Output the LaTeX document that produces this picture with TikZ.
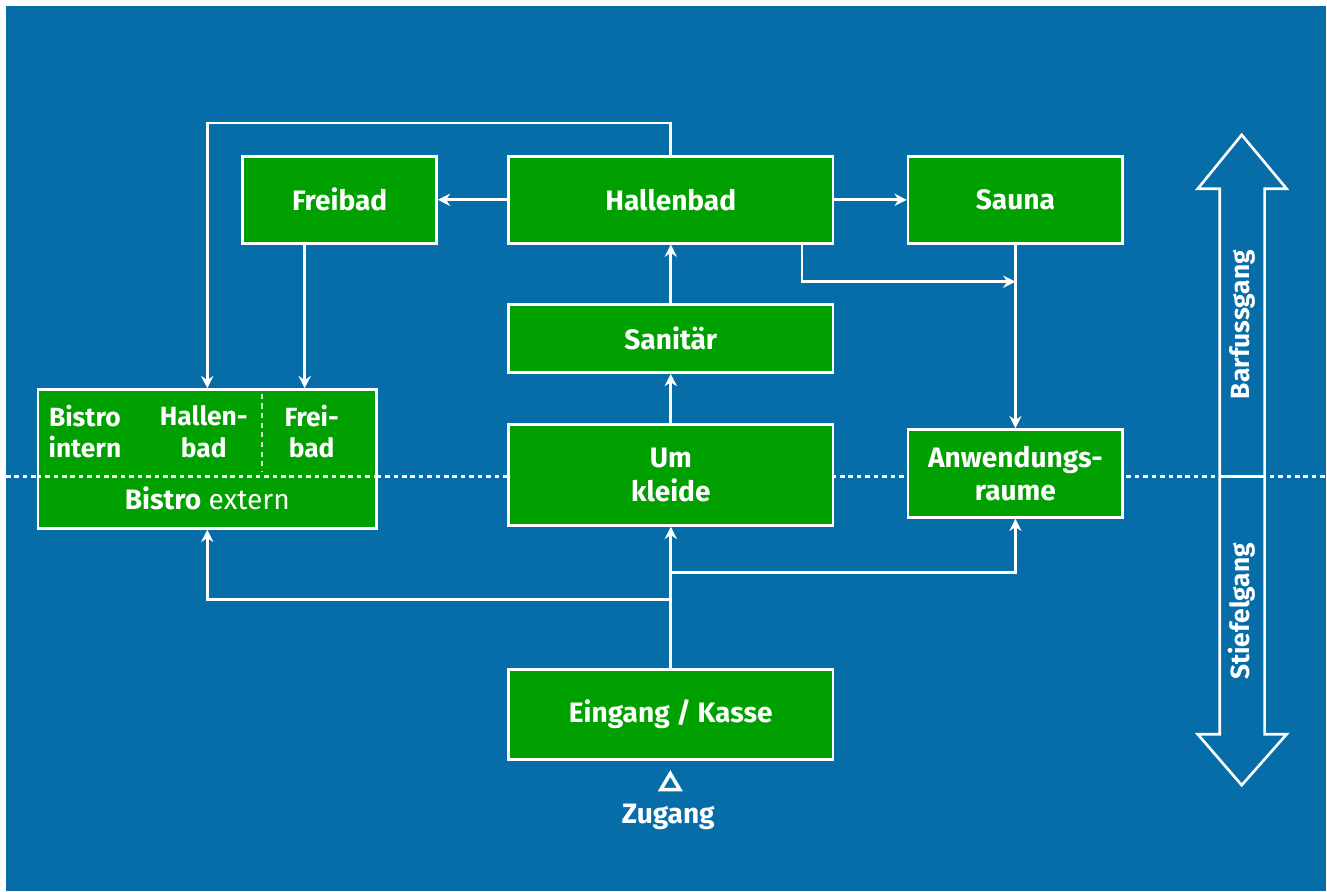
\documentclass[tikz,border=0pt]{standalone}
\usepackage{fontspec}
\setmainfont{Fira Sans}
\usetikzlibrary{arrows.meta,shapes.geometric}

\definecolor{bgblue}{HTML}{066DA8}
\definecolor{roomgreen}{HTML}{00A000}

\tikzset{
  room/.style={draw=white, line width=1.5pt, fill=roomgreen, text=white,
    font=\fontsize{16}{19}\selectfont\bfseries, align=center, inner sep=0pt},
  roomtext/.style={text=white, font=\fontsize{15}{18}\selectfont\bfseries,
    align=center, inner sep=0pt},
  flow/.style={draw=white, line width=1.5pt, -{Stealth[length=7pt,width=7pt]}},
  floorline/.style={white, line width=1.6pt, dash pattern=on 2.6pt off 2.2pt},
}

\begin{document}
\begin{tikzpicture}[x=0.02cm, y=-0.02cm]

    % Hintergrund
    \fill[white] (0,0) rectangle (1327,892);
    \fill[bgblue] (6,6) rectangle (1327,892);

    % Trennlinie Barfuss / Stiefel
    \draw[floorline] (6,477) -- (1327,477);

    % Raeume
    \node[room, minimum width=3.88cm, minimum height=1.74cm] (freibad) at (340,200) {Freibad};
    \node[room, minimum width=6.5cm, minimum height=1.74cm] (hallenbad) at (671.5,200) {Hallenbad};
    \node[room, minimum width=4.3cm, minimum height=1.74cm] (sauna) at (1016.5,200) {Sauna};
    \node[room, minimum width=6.5cm, minimum height=1.36cm] (sanitaer) at (671.5,339) {Sanit\"ar};
    \node[room, minimum width=6.5cm, minimum height=2.02cm] (umkleide) at (671.5,475.5) {Um\\kleide};
    \node[room, minimum width=4.3cm, minimum height=1.76cm] (anwendung) at (1016.5,474) {Anwendungs-\\raume};
    \node[room, minimum width=6.5cm, minimum height=1.8cm] (eingang) at (671.5,715) {Eingang / Kasse};

    % Bistro mit Unterteilung
    \node[room, minimum width=6.78cm, minimum height=2.78cm] (bistro) at (207.5,459.5) {};
    \draw[floorline] (bistro.west |- 0,477) -- (bistro.east |- 0,477);
    \draw[white!80!roomgreen, line width=1pt, dash pattern=on 3pt off 2.5pt] (262,394) -- (262,472);
    \node[roomtext] (bintern) at (85,432) {Bistro\\intern};
    \node[roomtext] (bhallen) at (204,432) {Hallen-\\bad};
    \node[roomtext] (bfrei) at (312,432) {Frei-\\bad};
    \node[roomtext, font=\fontsize{16}{19}\selectfont] (bextern) at (207.5,499) {\textbf{Bistro} extern};

    % Zugang
    \node[draw=white, line width=2pt, isosceles triangle, shape border rotate=90,
      isosceles triangle stretches, minimum height=0.32cm, minimum width=0.38cm,
      inner sep=0pt] (zugangmark) at (671,785) {};
    \node[roomtext, font=\fontsize{16}{19}\selectfont\bfseries] (zugang) at (669,818) {Zugang};

    % Wege
    \draw[flow] (hallenbad) -- (freibad);
    \draw[flow] (hallenbad) -- (sauna);
    \draw[flow] (hallenbad.north) -- ++(0,-32) -| (bistro.north);
    \draw[flow] ([xshift=-0.7cm]freibad.south) -- ([xshift=-0.7cm]freibad.south |- bistro.north);
    \coordinate (merge) at (1016.5,282);
    \draw[flow] ([xshift=2.63cm]hallenbad.south) |- (merge);
    \draw[flow] (sauna.south) -- (anwendung.north);
    \draw[flow] (sanitaer) -- (hallenbad);
    \draw[flow] (umkleide) -- (sanitaer);
    \draw[flow] (eingang) -- (umkleide);
    \coordinate (split1) at (671.5,573);
    \coordinate (split2) at (671.5,600);
    \draw[flow] (split1) -| (anwendung.south);
    \draw[flow] (split2) -| (bistro.south);

    % Doppelpfeil rechts
    \draw[white, line width=1.5pt, line join=miter]
      (1243,135) -- (1288,189) -- (1266,189) -- (1266,735) -- (1288,735) -- (1243,786)
      -- (1199,735) -- (1221,735) -- (1221,189) -- (1199,189) -- cycle;
    \draw[white, line width=1.6pt] (1221,477) -- (1266,477);
    \node[roomtext, rotate=90] (barfuss) at (1243.5,325) {Barfussgang};
    \node[roomtext, rotate=90] (stiefel) at (1243.5,612) {Stiefelgang};

\end{tikzpicture}
\end{document}
